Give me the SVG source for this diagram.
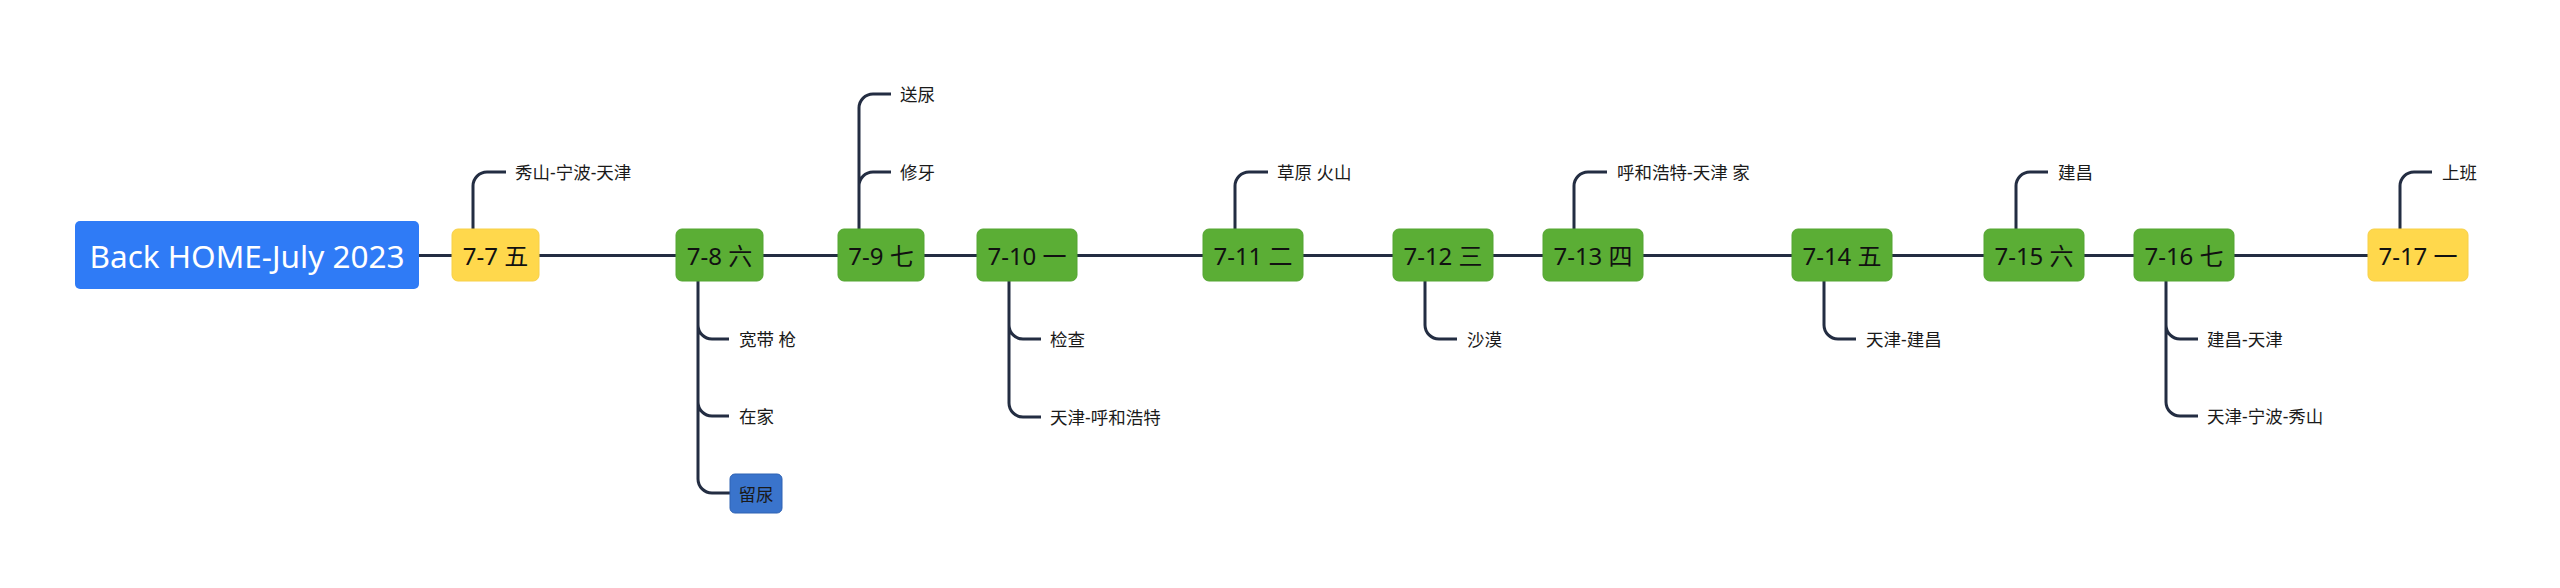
<svg xmlns="http://www.w3.org/2000/svg" width="2560" height="588" viewBox="0 0 2560 588">
<style>
.bg{fill:#ffffff}
.ln{fill:none;stroke:#232d42;stroke-width:3;stroke-linecap:butt}
.g{fill:#5bae35;stroke:#55a532;stroke-width:1}
.y{fill:#ffd84c;stroke:#f7d048;stroke-width:1}
.mt{font-family:"Noto Sans","Noto Sans CJK SC",sans-serif;font-size:24px;fill:#111111;text-anchor:middle;dominant-baseline:central}
.st{font-family:"Noto Sans","Noto Sans CJK SC",sans-serif;font-size:17.5px;fill:#1a1a1a;dominant-baseline:central}
</style>
<rect class="bg" x="0" y="0" width="2560" height="588"/>
<g id="connectors">
<path class="ln" d="M419 255.5H452M539 255.5H676M763 255.5H838M924 255.5H977M1077 255.5H1203M1303 255.5H1393M1493 255.5H1543M1643 255.5H1792M1892 255.5H1984M2084 255.5H2134M2234 255.5H2368"/>
<path class="ln" d="M473 229V186A14 14 0 0 1 487 172H506"/>
<path class="ln" d="M698 281V325A14 14 0 0 0 712 339H729M698 325V402A14 14 0 0 0 712 416H729M698 402V479A14 14 0 0 0 712 493H730"/>
<path class="ln" d="M859 229V186A14 14 0 0 1 873 172H891M859 186V108A14 14 0 0 1 873 94H891"/>
<path class="ln" d="M1009 281V325A14 14 0 0 0 1023 339H1041M1009 325V403A14 14 0 0 0 1023 417H1041"/>
<path class="ln" d="M1235 229V186A14 14 0 0 1 1249 172H1268"/>
<path class="ln" d="M1425 281V325A14 14 0 0 0 1439 339H1457"/>
<path class="ln" d="M1574 229V186A14 14 0 0 1 1588 172H1607"/>
<path class="ln" d="M1824 281V325A14 14 0 0 0 1838 339H1856"/>
<path class="ln" d="M2016 229V186A14 14 0 0 1 2030 172H2048"/>
<path class="ln" d="M2166 281V325A14 14 0 0 0 2180 339H2198M2166 325V402A14 14 0 0 0 2180 416H2198"/>
<path class="ln" d="M2400 229V186A14 14 0 0 1 2414 172H2432"/>
</g>
<g id="root">
<rect x="75" y="221" width="344" height="68" rx="5" fill="#2f7bf6"/>
<text x="247" y="255" font-family="Noto Sans, sans-serif" font-size="31.5" fill="#ffffff" text-anchor="middle" dominant-baseline="central">Back HOME-July 2023</text>
</g>
<g id="n77"><rect class="y" x="452" y="229" width="87" height="52" rx="6"/><text class="mt" x="495.5" y="255">7-7 五</text></g>
<g id="n77a"><text class="st" x="515" y="172">秀山-宁波-天津</text></g>
<g id="n78"><rect class="g" x="676" y="229" width="87" height="52" rx="6"/><text class="mt" x="719.5" y="255">7-8 六</text></g>
<g id="n78a"><text class="st" x="739" y="339">宽带 枪</text></g>
<g id="n78b"><text class="st" x="739" y="416">在家</text></g>
<g id="n78c"><rect x="730" y="474" width="52" height="39" rx="5" fill="#3a74cc" stroke="#2f62b3" stroke-width="1"/><text class="st" x="756" y="493.5" text-anchor="middle" fill="#14213d">留尿</text></g>
<g id="n79"><rect class="g" x="838" y="229" width="86" height="52" rx="6"/><text class="mt" x="881" y="255">7-9 七</text></g>
<g id="n79a"><text class="st" x="900" y="94">送尿</text></g>
<g id="n79b"><text class="st" x="900" y="172">修牙</text></g>
<g id="n710"><rect class="g" x="977" y="229" width="100" height="52" rx="6"/><text class="mt" x="1027" y="255">7-10 一</text></g>
<g id="n710a"><text class="st" x="1050" y="339">检查</text></g>
<g id="n710b"><text class="st" x="1050" y="417">天津-呼和浩特</text></g>
<g id="n711"><rect class="g" x="1203" y="229" width="100" height="52" rx="6"/><text class="mt" x="1253" y="255">7-11 二</text></g>
<g id="n711a"><text class="st" x="1277" y="172">草原 火山</text></g>
<g id="n712"><rect class="g" x="1393" y="229" width="100" height="52" rx="6"/><text class="mt" x="1443" y="255">7-12 三</text></g>
<g id="n712a"><text class="st" x="1467" y="339">沙漠</text></g>
<g id="n713"><rect class="g" x="1543" y="229" width="100" height="52" rx="6"/><text class="mt" x="1593" y="255">7-13 四</text></g>
<g id="n713a"><text class="st" x="1617" y="172">呼和浩特-天津 家</text></g>
<g id="n714"><rect class="g" x="1792" y="229" width="100" height="52" rx="6"/><text class="mt" x="1842" y="255">7-14 五</text></g>
<g id="n714a"><text class="st" x="1866" y="339">天津-建昌</text></g>
<g id="n715"><rect class="g" x="1984" y="229" width="100" height="52" rx="6"/><text class="mt" x="2034" y="255">7-15 六</text></g>
<g id="n715a"><text class="st" x="2058" y="172">建昌</text></g>
<g id="n716"><rect class="g" x="2134" y="229" width="100" height="52" rx="6"/><text class="mt" x="2184" y="255">7-16 七</text></g>
<g id="n716a"><text class="st" x="2207" y="339">建昌-天津</text></g>
<g id="n716b"><text class="st" x="2207" y="416">天津-宁波-秀山</text></g>
<g id="n717"><rect class="y" x="2368" y="229" width="100" height="52" rx="6"/><text class="mt" x="2418" y="255">7-17 一</text></g>
<g id="n717a"><text class="st" x="2442" y="172">上班</text></g>
</svg>
